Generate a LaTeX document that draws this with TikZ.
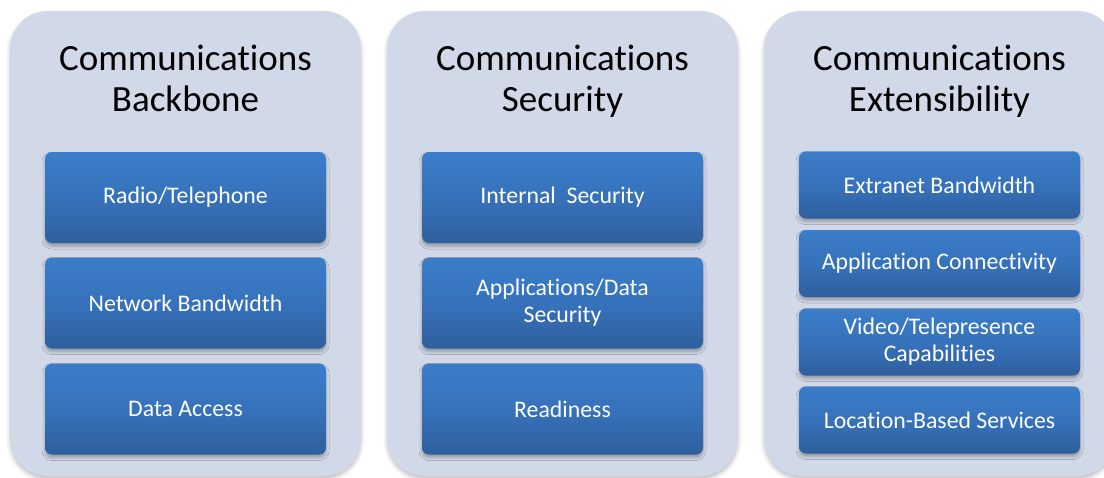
\documentclass[tikz,border=0pt]{standalone}
\usepackage{fontspec}
\setmainfont{Carlito}[Ligatures=NoCommon]
\usepackage{tikz}
\usetikzlibrary{shadows.blur}
\usepackage{xcolor}
\definecolor{PanelGrey}{HTML}{D1D8E7}
\definecolor{BoxTop}{HTML}{3B7DC9}
\definecolor{BoxMid}{HTML}{3672BB}
\definecolor{BoxBottom}{HTML}{2F5F9D}
\tikzset{
  panel/.style={fill=PanelGrey,rounded corners=38pt,minimum width=351pt,
    minimum height=465pt,inner sep=0pt,
    blur shadow={shadow xshift=0pt,shadow yshift=-3pt,shadow blur radius=4pt,shadow opacity=25}},
  heading/.style={align=center,text=black,text depth=9pt,font=\fontsize{37}{41}\selectfont},
  tallbox/.style={rounded corners=7pt,top color=BoxTop,bottom color=BoxBottom,middle color=BoxMid,
    minimum width=281pt,minimum height=91pt,inner sep=0pt,align=center,text=white,
    font=\fontsize{23.8}{27}\selectfont,
    blur shadow={shadow xshift=0pt,shadow yshift=-3pt,shadow blur radius=3pt,shadow opacity=30}},
  shortbox/.style={tallbox,minimum height=67pt}
}

\begin{document}
\begin{tikzpicture}[x=1pt,y=-1pt]
  \useasboundingbox (0,0) rectangle (1104,477);

  % backbone
  \node[panel] (backbone) at (185.5,243.5) {};
  \node[heading] (backboneTitle) at (185.5,83) {Communications\\Backbone};
  \node[tallbox] (radio) at (185.5,197.5) {Radio/Telephone};
  \node[tallbox] (netbw) at (185.5,303) {Network Bandwidth};
  \node[tallbox] (dataacc) at (185.5,409) {Data Access};

  % security
  \node[panel] (security) at (562.5,243.5) {};
  \node[heading] (securityTitle) at (562.5,83) {Communications\\Security};
  \node[tallbox] (internal) at (562.5,197.5) {Internal~\ Security};
  \node[tallbox] (appdata) at (562.5,303) {Applications/Data\\Security};
  \node[tallbox] (ready) at (562.5,409) {Readiness};

  % extensibility
  \node[panel] (extens) at (939.5,243.5) {};
  \node[heading] (extensTitle) at (939.5,83) {Communications\\Extensibility};
  \node[shortbox] (extranet) at (939.5,185) {Extranet Bandwidth};
  \node[shortbox] (appconn) at (939.5,263.5) {Application Connectivity};
  \node[shortbox] (video) at (939.5,342) {Video/Telepresence\\Capabilities};
  \node[shortbox] (location) at (939.5,420) {Location-Based Services};
\end{tikzpicture}
\end{document}
